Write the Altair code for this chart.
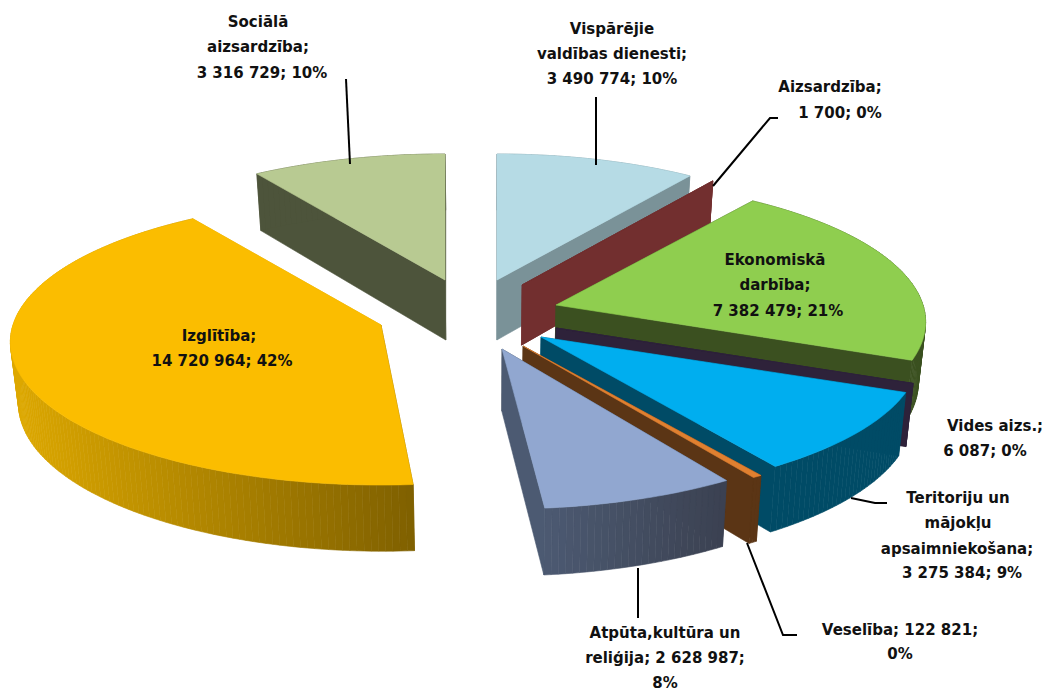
import math
import altair as alt

NAMES = ["Vispārējie valdības dienesti", "Aizsardzība", "Ekonomiskā darbība", "Vides aizs.",
         "Teritoriju un mājokļu apsaimniekošana", "Veselība", "Atpūta,kultūra un reliģija",
         "Izglītība", "Sociālā aizsardzība"]
VALUES = [3490774, 1700, 7382479, 6087, 3275384, 122821, 2628987, 14720964, 3316729]
TOP_COL = ["#B6DBE5", "#722F2F", "#8FCE4F", "#2E223A", "#00AEEF", "#E08030", "#91A7D0", "#FBBD00", "#B8CA92"]
WALL_L = ["#7A9298", "#722F2F", "#3B5020", "#2E223A", "#004B66", "#5B3515", "#4C5A72", "#DDA800", "#4D543B"]
WALL_R = ["#7A9298", "#722F2F", "#3B5020", "#2E223A", "#004B66", "#5B3515", "#3B4151", "#7F6000", "#4D543B"]
# explosion layout: apex of every slice, horizontal radius, nudge of start angle
APEX_X = [497, 522, 556, 556, 541, 523, 502, 381, 445]
APEX_Y = [280, 285, 305, 328, 337, 346, 349, 325, 280]
RX = [360, 356, 367, 368, 376, 382, 372, 368, 368]
NUDGE = [0, 0, 0, 0, 0, 0, 0, 1.4, 0]
DRAW_ORDER = [8, 7, 0, 1, 2, 3, 4, 5, 6]

LABEL_TEXT = ["Sociālā", "aizsardzība;", "3 316 729; 10%",
              "Vispārējie", "valdības dienesti;", "3 490 774; 10%",
              "Aizsardzība;", "1 700; 0%",
              "Ekonomiskā", "darbība;", "7 382 479; 21%",
              "Izglītība;", "14 720 964; 42%",
              "Vides aizs.;", "6 087; 0%",
              "Teritoriju un", "mājokļu", "apsaimniekošana;", "3 275 384; 9%",
              "Atpūta,kultūra un", "reliģija; 2 628 987;", "8%",
              "Veselība; 122 821;", "0%"]
LABEL_X = [258, 258, 262, 612, 612, 612, 830, 840, 775, 775, 778, 219, 222, 995, 985,
           958, 958, 957, 962, 665, 665, 665, 900, 900]
LABEL_Y = [27, 52, 78, 34, 59, 84, 92, 118, 265, 290, 316, 341, 366, 431, 456,
           503, 528, 554, 578, 638, 663, 688, 635, 659]

LEADER_ID = [0, 0, 1, 1, 2, 2, 2, 3, 3, 3, 4, 4, 4, 5, 5]
LEADER_X = [346, 350, 596, 596, 713, 770, 778, 851, 875, 887, 747, 783, 797, 638, 638]
LEADER_Y = [79, 164, 97, 165, 186, 118, 118, 498, 503, 503, 543, 635, 635, 568, 618]

K, RY = 0.119, 141.0
total = sum(VALUES)


def proj(deg, ax, ay, rx):
    a = math.radians(deg)
    d = 1 + K * math.cos(a)
    return ax + rx * math.sin(a) / d, ay - RY * math.cos(a) / d


def drop(p):
    return p[0] - (p[0] - 490) * 0.017, p[1] + 60 + (p[1] - 280) * 0.03


def mix(c1, c2, t):
    a = [int(c1[i:i + 2], 16) for i in (1, 3, 5)]
    b = [int(c2[i:i + 2], 16) for i in (1, 3, 5)]
    return "#%02x%02x%02x" % tuple(round(u + (v - u) * t) for u, v in zip(a, b))


def poly(points, colour):
    ring = [list(p) for p in points]
    ring.append(ring[0])
    return {"type": "Feature", "properties": {"c": colour},
            "geometry": {"type": "Polygon", "coordinates": [ring]}}


starts, cum = [], 0.0
for v in VALUES:
    starts.append(cum)
    cum += v / total * 360

features = []
for i in DRAW_ORDER:
    a0 = starts[i] + NUDGE[i]
    a1 = starts[i] + VALUES[i] / total * 360
    ax, ay, rx = APEX_X[i], APEX_Y[i], RX[i]
    apex = (ax, ay)
    n = max(2, int((a1 - a0) / 1.0))
    rim = [proj(a0 + (a1 - a0) * j / n, ax, ay, rx) for j in range(n + 1)]
    xs = [p[0] for p in rim]
    lo, hi = min(xs), max(xs)
    # side walls
    features.append(poly([apex, rim[0], drop(rim[0]), drop(apex)], WALL_R[i]))
    for j in range(n):
        t = 0 if hi == lo else ((rim[j][0] + rim[j + 1][0]) / 2 - lo) / (hi - lo)
        features.append(poly([rim[j], rim[j + 1], drop(rim[j + 1]), drop(rim[j])],
                             mix(WALL_L[i], WALL_R[i], t)))
    features.append(poly([apex, rim[-1], drop(rim[-1]), drop(apex)], WALL_L[i]))
    # top face
    features.append(poly([apex] + rim, TOP_COL[i]))

W, H = 1041, 682
shapes = alt.Chart(alt.Data(values=features)).mark_geoshape(strokeWidth=0.6).encode(
    fill=alt.Fill("properties.c:N", scale=None),
    stroke=alt.Stroke("properties.c:N", scale=None),
).project(type="identity", scale=1, translate=[-8, -8])

x_scale = alt.Scale(domain=[8, 8 + W], range=[0, W])
y_scale = alt.Scale(domain=[8, 8 + H], range=[0, H])

leaders = alt.Chart(alt.Data(values=[
    {"id": a, "x": b, "y": c, "o": n} for n, (a, b, c) in enumerate(zip(LEADER_ID, LEADER_X, LEADER_Y))
])).mark_line(color="#000000", strokeWidth=2).encode(
    x=alt.X("x:Q", scale=x_scale, axis=None),
    y=alt.Y("y:Q", scale=y_scale, axis=None),
    detail="id:N", order="o:Q",
)

labels = alt.Chart(alt.Data(values=[
    {"t": a, "x": b, "y": c} for a, b, c in zip(LABEL_TEXT, LABEL_X, LABEL_Y)
])).mark_text(font="DejaVu Sans", fontWeight="bold", fontSize=15, color="#111111",
              align="center", baseline="alphabetic").encode(
    x=alt.X("x:Q", scale=x_scale, axis=None),
    y=alt.Y("y:Q", scale=y_scale, axis=None),
    text="t:N",
)

chart = alt.layer(shapes, leaders, labels).properties(
    width=W, height=H, padding=0, autosize=alt.AutoSizeParams(type="none"), background="#FFFFFF"
).configure_view(stroke=None)

chart.save("out.html", embed_options={"renderer": "svg", "actions": False})
